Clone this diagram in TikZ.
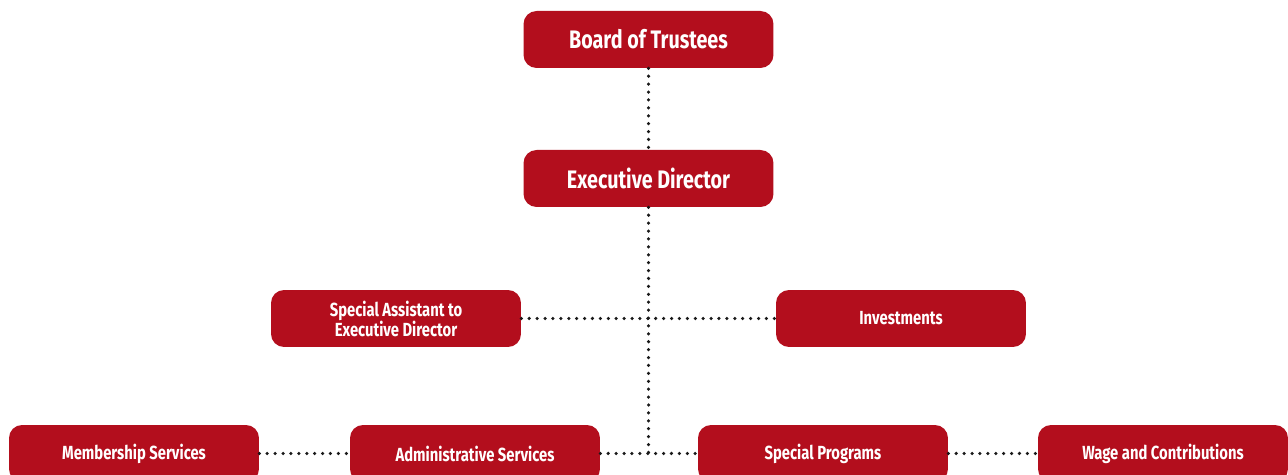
\documentclass[tikz,border=0pt]{standalone}
\usepackage{fontspec}
\setmainfont{Fira Sans}[FakeStretch=0.78]
\usepackage{tikz}
\definecolor{boardred}{HTML}{B30E1D}

\tikzset{
    unit/.style={fill=boardred, text=white, rounded corners=0.26cm,
        minimum width=5cm, minimum height=1.14cm, inner sep=0pt,
        align=center, font=\bfseries\fontsize{10.8}{11.4}\selectfont},
    topunit/.style={unit, font=\bfseries\fontsize{14.4}{16}\selectfont},
    dots/.style={line width=2pt, line cap=round, dash pattern=on 0pt off 4.5pt, black!90}
}

\begin{document}
\begin{tikzpicture}[x=0.02cm, y=-0.02cm]
    \useasboundingbox[clip] (0,0) rectangle (1288,475);
    % top of the chart
    \node[topunit] (board) at (648.5,39.5) {Board of Trustees};
    \node[topunit] (exec) at (648.5,178.5) {Executive Director};
    % staff level
    \node[unit] (assist) at (396,318.5) {Special Assistant to\\Executive Director};
    \node[unit] (invest) at (901,318.5) {Investments};
    % divisions
    \node[unit] (member) at (134,453.5) {Membership Services};
    \node[unit] (admin) at (475,453.5) {Administrative Services};
    \node[unit] (special) at (823,453.5) {Special Programs};
    \node[unit] (wage) at (1163,453.5) {Wage and Contributions};
    % dotted reporting lines
    \coordinate (joint) at (exec.south |- special.west);
    \draw[dots] (board.south) -- (exec.north);
    \draw[dots] (exec.south) -- (joint);
    \draw[dots] (assist.east) -- (invest.west);
    \draw[dots] (member.east) -- (admin.west);
    \draw[dots] (admin.east) -- (special.west);
    \draw[dots] (special.east) -- (wage.west);
\end{tikzpicture}
\end{document}
